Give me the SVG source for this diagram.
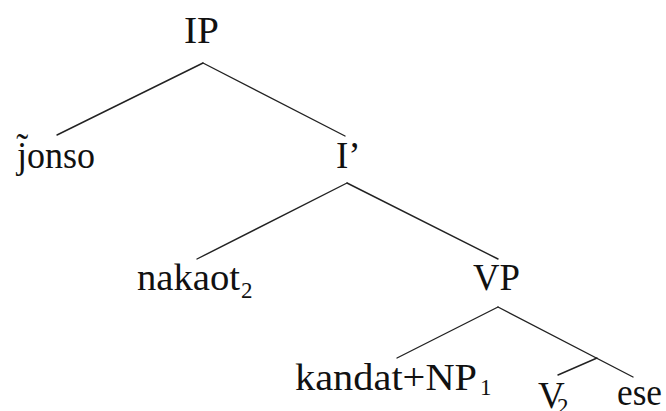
<svg xmlns="http://www.w3.org/2000/svg" width="666" height="411" viewBox="0 0 666 411">
<style>
.e{stroke:#222;stroke-width:1.4;fill:none;stroke-linecap:round}
.t{font-family:'Liberation Serif',serif;font-size:37px;fill:#111}
.s{font-family:'Liberation Serif',serif;font-size:23px;fill:#111}
</style>
<rect width="666" height="411" fill="#fff"/>
<g id="connectors" class="e">
<line x1="203" y1="63" x2="57" y2="135"/>
<line x1="203" y1="63" x2="345" y2="136"/>
<line x1="347" y1="183" x2="197" y2="259"/>
<line x1="347" y1="183" x2="498" y2="259"/>
<line x1="498" y1="307" x2="397" y2="358"/>
<line x1="498" y1="307" x2="633" y2="377"/>
<line x1="597" y1="358" x2="558" y2="375"/>
</g>
<g id="IP"><text class="t" x="184" y="43" textLength="35" lengthAdjust="spacingAndGlyphs">IP</text></g>
<g id="jonso"><text class="t" x="17" y="168" textLength="78" lengthAdjust="spacingAndGlyphs">j̃onso</text></g>
<g id="Ibar"><text class="t" x="336" y="168">I’</text></g>
<g id="nakaot"><text class="t" x="137" y="290" textLength="103" lengthAdjust="spacingAndGlyphs">nakaot</text><text class="s" x="241" y="298">2</text></g>
<g id="VP"><text class="t" x="473" y="290" textLength="47" lengthAdjust="spacingAndGlyphs">VP</text></g>
<g id="kandatNP"><text class="t" x="295" y="390" textLength="182" lengthAdjust="spacingAndGlyphs">kandat+NP</text><text class="s" x="480" y="395">1</text></g>
<g id="V2"><text class="t" x="538" y="408">V</text><text class="s" x="557" y="414">2</text></g>
<g id="ese"><text class="t" x="617" y="405" textLength="45" lengthAdjust="spacingAndGlyphs">ese</text></g>
</svg>
